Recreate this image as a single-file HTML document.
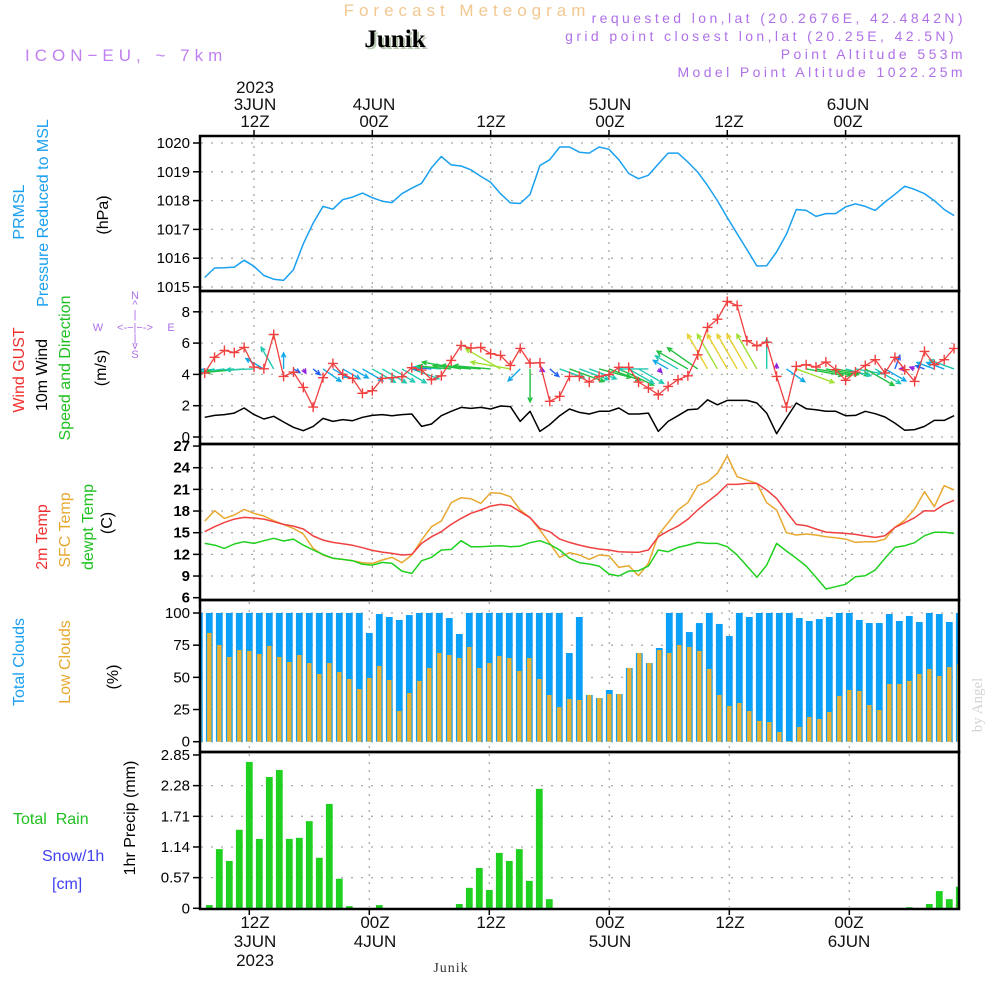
<!DOCTYPE html>
<html><head><meta charset="utf-8">
<style>
html,body{margin:0;padding:0;background:#fff;}
svg{display:block;font-family:"Liberation Sans",sans-serif;}
</style></head>
<body>
<svg id="chart" width="1000" height="1000" viewBox="0 0 1000 1000" xmlns="http://www.w3.org/2000/svg">
<rect x="0" y="0" width="1000" height="1000" fill="#fff"/>
<defs><clipPath id="plotclip"><rect x="200" y="130" width="759" height="790"/></clipPath></defs>
<!-- header -->
<text x="467" y="16" font-size="17" fill="#f2c890" text-anchor="middle" letter-spacing="5">Forecast Meteogram</text>
<text x="397" y="49" font-size="25" font-weight="bold" font-family="Liberation Serif,serif" fill="#b8c8b0" text-anchor="middle">Junik</text>
<text x="395" y="47" font-size="25" font-weight="bold" font-family="Liberation Serif,serif" fill="#000" text-anchor="middle">Junik</text>
<text x="25" y="61" font-size="17" fill="#c080f0" letter-spacing="5">ICON−EU, ~ 7km</text>
<g fill="#b070e8" font-size="14" text-anchor="end" letter-spacing="3.4">
<text x="966" y="23">requested lon,lat (20.2676E, 42.4842N)</text>
<text x="957" y="41">grid point closest lon,lat (20.25E, 42.5N)</text>
<text x="966" y="59">Point Altitude 553m</text>
<text x="966" y="77">Model Point Altitude 1022.25m</text>
</g>
<!-- top time axis -->
<g font-size="17" fill="#111" text-anchor="middle">
<text x="255" y="93">2023</text><text x="255" y="110">3JUN</text><text x="255" y="127">12Z</text>
<text x="374" y="110">4JUN</text><text x="374" y="127">00Z</text>
<text x="491" y="127">12Z</text>
<text x="610" y="110">5JUN</text><text x="610" y="127">00Z</text>
<text x="729" y="127">12Z</text>
<text x="848" y="110">6JUN</text><text x="848" y="127">00Z</text>
</g>
<!-- bottom time axis -->
<g font-size="17" fill="#111" text-anchor="middle">
<text x="255" y="928">12Z</text><text x="255" y="947">3JUN</text><text x="255" y="966">2023</text>
<text x="375" y="928">00Z</text><text x="375" y="947">4JUN</text>
<text x="491" y="928">12Z</text>
<text x="610" y="928">00Z</text><text x="610" y="947">5JUN</text>
<text x="730" y="928">12Z</text>
<text x="849" y="928">00Z</text><text x="849" y="947">6JUN</text>
</g>
<text x="451" y="972" font-size="14" font-family="Liberation Serif,serif" fill="#333" text-anchor="middle" letter-spacing="1">Junik</text>
<text transform="translate(982,705) rotate(-90)" font-size="15" font-family="Liberation Serif,serif" fill="#d4d4d4" text-anchor="middle">by Angel</text>
<!-- left labels -->
<g font-size="16" text-anchor="middle">
<text transform="translate(24,212) rotate(-90)" fill="#1aa0f0">PRMSL</text>
<text transform="translate(48,213) rotate(-90)" fill="#1aa0f0">Pressure Reduced to MSL</text>
<text transform="translate(108,215) rotate(-90)" fill="#000">(hPa)</text>
<text transform="translate(24,370) rotate(-90)" fill="#f03030">Wind GUST</text>
<text transform="translate(47,375) rotate(-90)" fill="#000">10m Wind</text>
<text transform="translate(70,368) rotate(-90)" fill="#20c020">Speed and Direction</text>
<text transform="translate(106,368) rotate(-90)" fill="#000">(m/s)</text>
<text transform="translate(47,537) rotate(-90)" fill="#f03030">2m Temp</text>
<text transform="translate(70,530) rotate(-90)" fill="#e8a830">SFC Temp</text>
<text transform="translate(93,527) rotate(-90)" fill="#20c020">dewpt Temp</text>
<text transform="translate(112,523) rotate(-90)" fill="#000">(C)</text>
<text transform="translate(24,662) rotate(-90)" fill="#1aa0f0">Total Clouds</text>
<text transform="translate(70,662) rotate(-90)" fill="#e8a830">Low Clouds</text>
<text transform="translate(118,677) rotate(-90)" fill="#000">(%)</text>
<text transform="translate(135,818) rotate(-90)" fill="#000">1hr Precip (mm)</text>
</g>
<text x="13" y="824" font-size="16" fill="#20c020" xml:space="preserve">Total  Rain</text>
<text x="42" y="861" font-size="16" fill="#4040f0">Snow/1h</text>
<text x="52" y="889" font-size="16" fill="#4040f0">[cm]</text>
<g fill="#b070e8" font-size="11" text-anchor="middle">
<text x="135" y="299">N</text><text x="135" y="308">^</text><text x="135" y="318">|</text>
<text x="98" y="331">W</text><text x="135" y="331">&lt;-−|−-&gt;</text><text x="171" y="331">E</text>
<text x="135" y="342">|</text><text x="135" y="349">v</text><text x="135" y="358">S</text>
</g>
<g id="plot"></g>
</svg>
<script>
// ---- data ----
const pressure = [1015.33,1015.66,1015.67,1015.69,1015.93,1015.72,1015.4,1015.27,1015.23,1015.6,1016.5,1017.22,1017.8,1017.7,1018.03,1018.12,1018.26,1018.1,1017.98,1017.93,1018.24,1018.43,1018.6,1019.14,1019.53,1019.24,1019.2,1019.07,1018.84,1018.64,1018.24,1017.92,1017.9,1018.22,1019.22,1019.42,1019.86,1019.86,1019.68,1019.65,1019.86,1019.78,1019.42,1018.94,1018.76,1018.88,1019.27,1019.65,1019.65,1019.34,1018.99,1018.52,1018.0,1017.41,1016.85,1016.3,1015.73,1015.74,1016.22,1016.83,1017.69,1017.66,1017.45,1017.55,1017.55,1017.78,1017.89,1017.8,1017.66,1017.95,1018.22,1018.5,1018.39,1018.24,1018.0,1017.69,1017.48];
const windSpeed = [1.26,1.38,1.43,1.53,1.85,1.43,1.15,1.32,0.96,0.62,0.40,0.68,1.19,1.0,1.11,1.04,1.26,1.38,1.43,1.36,1.43,1.47,0.68,0.83,1.36,1.64,1.89,1.83,1.89,1.79,1.98,1.94,1.0,1.64,0.36,0.79,1.36,1.79,1.57,1.47,1.64,1.64,1.85,1.47,1.47,1.53,0.36,1.0,1.36,1.74,1.79,2.38,2.06,2.34,2.34,2.34,2.17,1.53,0.21,1.21,2.17,1.81,1.74,1.64,1.64,1.36,1.38,1.64,1.49,1.28,0.89,0.43,0.47,0.68,1.06,1.06,1.36];
const windGust = [4.09,5.09,5.53,5.4,5.72,4.47,4.36,6.55,3.87,4.15,3.17,1.91,3.79,4.7,4.0,3.74,2.79,2.96,3.74,3.79,3.85,4.43,4.28,3.66,3.91,4.89,5.85,5.68,5.72,5.32,5.21,4.57,5.66,4.72,4.74,2.28,2.6,3.87,3.87,3.51,3.87,3.98,4.45,4.45,3.51,3.13,2.7,3.23,3.66,3.91,5.25,7.0,7.53,8.66,8.4,6.15,5.83,6.06,3.87,1.91,4.51,4.62,4.47,4.79,4.3,3.62,4.15,4.57,4.94,4.09,5.09,4.3,3.55,5.47,4.62,4.94,5.66];
const windDirFrom = [80,80,82,85,85,88,120,150,180,300,330,310,305,300,300,300,300,300,300,300,300,290,100,95,95,95,100,95,95,95,120,100,45,0,300,310,290,290,290,290,285,290,295,300,300,90,315,120,120,120,125,150,150,150,150,150,150,180,180,305,290,280,280,280,280,285,280,300,300,300,200,90,110,110,110,110,110];
const temp2m = [15.14,15.83,16.43,16.89,17.12,17.03,16.89,16.52,16.15,15.92,15.51,14.54,13.98,13.66,13.48,13.25,12.92,12.55,12.32,12.14,11.91,12.0,13.52,14.45,15.14,16.15,16.98,17.68,18.14,18.69,18.92,18.74,17.91,17.08,15.6,15.14,14.12,13.66,13.29,12.97,12.74,12.6,12.37,12.32,12.28,12.6,14.45,15.23,15.92,16.85,18.14,19.29,20.35,21.69,21.69,21.83,21.83,20.91,19.75,17.91,16.15,15.97,15.51,15.09,15.0,14.91,14.77,14.54,14.35,14.58,15.74,16.38,17.08,18.05,18.0,18.92,19.48];
const tempSfc = [16.6,18.05,16.98,17.45,18.23,17.68,17.31,16.66,16.15,15.6,14.82,12.83,11.91,11.45,11.31,11.12,10.85,10.75,11.22,11.58,10.85,11.91,13.98,15.83,16.6,19.15,19.85,19.71,19.06,20.54,20.45,19.98,18.14,17.08,15.37,13.52,11.58,12.23,11.91,11.31,11.91,11.82,10.2,10.43,9.05,10.75,14.68,16.38,18.14,19.15,21.51,22.06,23.22,25.62,22.75,22.29,21.83,19.15,18.14,15.0,14.68,14.82,14.68,14.45,14.31,14.12,13.66,13.75,13.75,14.12,15.74,16.75,18.28,20.68,18.6,21.51,20.91];
const dewpt = [13.52,13.29,12.83,13.43,13.75,13.52,13.89,14.22,13.85,14.12,13.29,12.6,12.0,11.45,11.31,11.12,10.62,10.52,10.89,10.75,9.69,9.37,11.12,11.58,12.6,12.69,13.89,13.06,13.06,13.15,13.2,13.06,13.15,13.62,13.89,13.38,12.6,11.45,10.85,10.66,10.38,9.28,9.0,9.69,9.74,10.38,12.6,12.37,12.97,13.29,13.66,13.52,13.52,13.06,11.91,10.38,8.82,10.52,13.52,12.46,11.45,10.38,8.82,7.2,7.52,7.85,8.91,9.05,9.83,11.45,12.97,13.2,13.62,14.58,15.05,15.05,14.91];
const totalClouds = [100,100,100,100,100,100,100,100,100,100,100,100,100,100,100,100,100,84.5,99.2,96.9,94.6,98.4,100,100,100,96.1,83.7,100,100,100,100,100,100,100,100,100,100,68.9,96.9,36.3,33.9,40.2,37.0,57.3,68.9,61.1,72.8,100,100,85.2,92.2,100,91.5,82.1,100,96.9,100,100,100,100,96.1,93.8,95.3,96.9,100,100,94.6,92.2,92.2,99.2,93.8,97.7,93.0,100,99.2,93.0,100];
const lowClouds = [47.9,84.5,75.1,65.8,71.2,70.5,68.1,74.4,65.8,61.9,67.4,61.1,52.6,61.1,54.1,48.7,40.9,49.5,58.8,47.9,23.8,37.8,47.2,57.3,68.9,67.4,65.0,73.6,57.3,61.1,66.6,65.0,54.9,65.0,48.7,36.3,26.9,33.2,32.4,36.3,33.9,37.0,37.0,57.3,68.9,61.1,71.2,68.9,75.1,73.6,70.5,56.5,36.3,27.7,30.1,23.8,16.1,15.3,7.5,0.5,11.4,19.2,17.6,23.1,35.5,40.2,39.4,28.5,24.6,44.8,44.8,47.2,52.6,56.5,51.0,58.0,60.4];
const precip = [0,0.06,1.10,0.88,1.46,2.72,1.29,2.44,2.57,1.29,1.31,1.62,0.94,1.94,0.55,0.04,0,0,0.06,0,0,0,0,0,0,0,0.08,0.38,0.75,0.34,1.03,0.88,1.10,0.51,2.22,0.17,0,0,0,0,0,0,0,0,0,0,0,0,0,0,0,0,0,0,0,0,0,0,0,0,0,0,0,0,0,0,0,0,0,0,0,0.02,0,0.08,0.32,0.17,0.40];
const pressTicks = [1015,1016,1017,1018,1019,1020];
const windTicks = [0,2,4,6,8];
const tempTicks = [6,9,12,15,18,21,24,27];
const cloudTicks = [0,25,50,75,100];
const precipTicks = [0,0.57,1.14,1.71,2.28,2.85];
const gridHours = [0,12,24,36,48,60];
const firstHour = -5;

// ---- scales ----
const xU = h => 254 + 9.86*h;
const xL = h => 249.3 + 10*h;
const yP = v => 143 + (1020-v)*28.8;
const yW = v => 437 - v*15.65;
const yT = v => 597.7 - (v-6)*7.222;
const yC = v => 741.7 - v*1.287;
const yR = v => 908.3 - v*53.8;

const NS='http://www.w3.org/2000/svg';
const plot=document.getElementById('plot');
function mk(tag,attrs,parent){const e=document.createElementNS(NS,tag);for(const k in attrs)e.setAttribute(k,attrs[k]);(parent||plot).appendChild(e);return e;}
const hourOf = i => firstHour + i;

const panels=[
 {name:'pressure',top:136,bot:291,ticks:pressTicks,y:yP,fmt:v=>String(v),x:xU,bold:false},
 {name:'wind',top:291,bot:444,ticks:windTicks,y:yW,fmt:v=>String(v),x:xU,bold:false},
 {name:'temp',top:444,bot:600,ticks:tempTicks,y:yT,fmt:v=>String(v),x:xU,bold:true},
 {name:'cloud',top:600,bot:752,ticks:cloudTicks,y:yC,fmt:v=>String(v),x:xL,bold:false},
 {name:'precip',top:752,bot:909,ticks:precipTicks,y:yR,fmt:v=>v===0?'0':v.toFixed(2),x:xL,bold:false}
];
const gridG=mk('g',{});


panels.forEach(p=>{
  p.ticks.forEach(t=>{
    const y=p.y(t);
    if(y>p.top+3 && y<p.bot-3){
      const gl=mk('line',{x1:201,x2:958,y1:y,y2:y,stroke:'#aaa','stroke-width':1.3,'stroke-dasharray':'2,8'},gridG);
      
      
    }
    const tk=mk('line',{x1:193,x2:200,y1:y,y2:y,stroke:'#000','stroke-width':1.5});
    
    
    const tl=mk('text',{x:190,y:y+5,'font-size':15,'text-anchor':'end',fill:'#000','font-weight':p.bold?'bold':'normal'});
    tl.textContent=p.fmt(t);
    
    
  });
  gridHours.forEach(h=>{
    const x=p.x(h);
    const vl=mk('line',{x1:x,x2:x,y1:p.top+2,y2:p.bot-2,stroke:'#aaa','stroke-width':1.3,'stroke-dasharray':'2,6'},gridG);
    
    
  });
});
gridHours.forEach(h=>{
  const t1=mk('line',{x1:xU(h),x2:xU(h),y1:130,y2:136,stroke:'#000','stroke-width':1.5});
  
  
  const t2=mk('line',{x1:xL(h),x2:xL(h),y1:909,y2:915,stroke:'#000','stroke-width':1.5});
  
  
});

const clip=mk('g',{'clip-path':'url(#plotclip)'});


function line(arr,xf,yf,color,name,w){
  const d=arr.map((v,i)=>(i?'L':'M')+xf(hourOf(i)).toFixed(1)+','+yf(v).toFixed(1)).join('');
  const p=mk('path',{d:d,fill:'none',stroke:color,'stroke-width':w||1.5,'stroke-linejoin':'round'},clip);
  
  
}
line(pressure,xU,yP,'#1aa0f0','pressure-line');
line(windSpeed,xU,yW,'#000','wind-speed-line');
function arrowColor(s){
  if(s<0.5) return '#9020e0';
  if(s<0.9) return '#2060f0';
  if(s<1.3) return '#10a8e8';
  if(s<1.6) return '#20c8b0';
  if(s<1.9) return '#20c040';
  if(s<2.2) return '#a0e030';
  return '#e8d030';
}
const arrG=mk('g',{},clip);


windDirFrom.forEach((d,i)=>{
  const s=windSpeed[i];
  const len=Math.min(40,Math.max(5,25*s-8));
  const to=(d+180)*Math.PI/180;
  const x0=xU(hourOf(i)), y0=yW(4.35);
  const x1=x0+Math.sin(to)*len, y1=y0-Math.cos(to)*len;
  const ang=Math.atan2(y1-y0,x1-x0);
  const hl=5;
  const c=arrowColor(s);
  const a=mk('path',{d:`M${x0},${y0}L${x1},${y1}M${x1-hl*Math.cos(ang-0.45)},${y1-hl*Math.sin(ang-0.45)}L${x1},${y1}L${x1-hl*Math.cos(ang+0.45)},${y1-hl*Math.sin(ang+0.45)}`,stroke:c,'stroke-width':1.4,fill:'none'},arrG);
  
  
});
line(windGust,xU,yW,'#f04040','gust-line',1.3);
windGust.forEach((v,i)=>{
  const x=xU(hourOf(i)),y=yW(v);
  const m=mk('path',{d:`M${x-5},${y}H${x+5}M${x},${y-5}V${y+5}`,stroke:'#f04040','stroke-width':1.4},clip);
  
  
});
line(tempSfc,xU,yT,'#e8a830','sfc-temp-line');
line(temp2m,xU,yT,'#f04040','temp-2m-line');
line(dewpt,xU,yT,'#20d020','dewpoint-line');
totalClouds.forEach((v,i)=>{
  const x=xL(hourOf(i));
  const b=mk('rect',{x:x-3.4,y:yC(v),width:6.8,height:yC(0)-yC(v),fill:'#0aa0f8'},clip);
  
  
});
lowClouds.forEach((v,i)=>{
  const x=xL(hourOf(i));
  const b=mk('rect',{x:x-2.2,y:yC(v),width:4.4,height:yC(0)-yC(v),fill:'#e8b030'},clip);
  
  
});
precip.forEach((v,i)=>{
  if(v<=0) return;
  const x=xL(hourOf(i));
  const b=mk('rect',{x:x-3.4,y:yR(v),width:6.8,height:yR(0)-yR(v),fill:'#20d020'},clip);
  
  
});
panels.forEach(p=>{
  const r=mk('rect',{x:200,y:p.top,width:759,height:p.bot-p.top,fill:'none',stroke:'#000','stroke-width':2.5});
  
  
});
</script>
</body></html>
